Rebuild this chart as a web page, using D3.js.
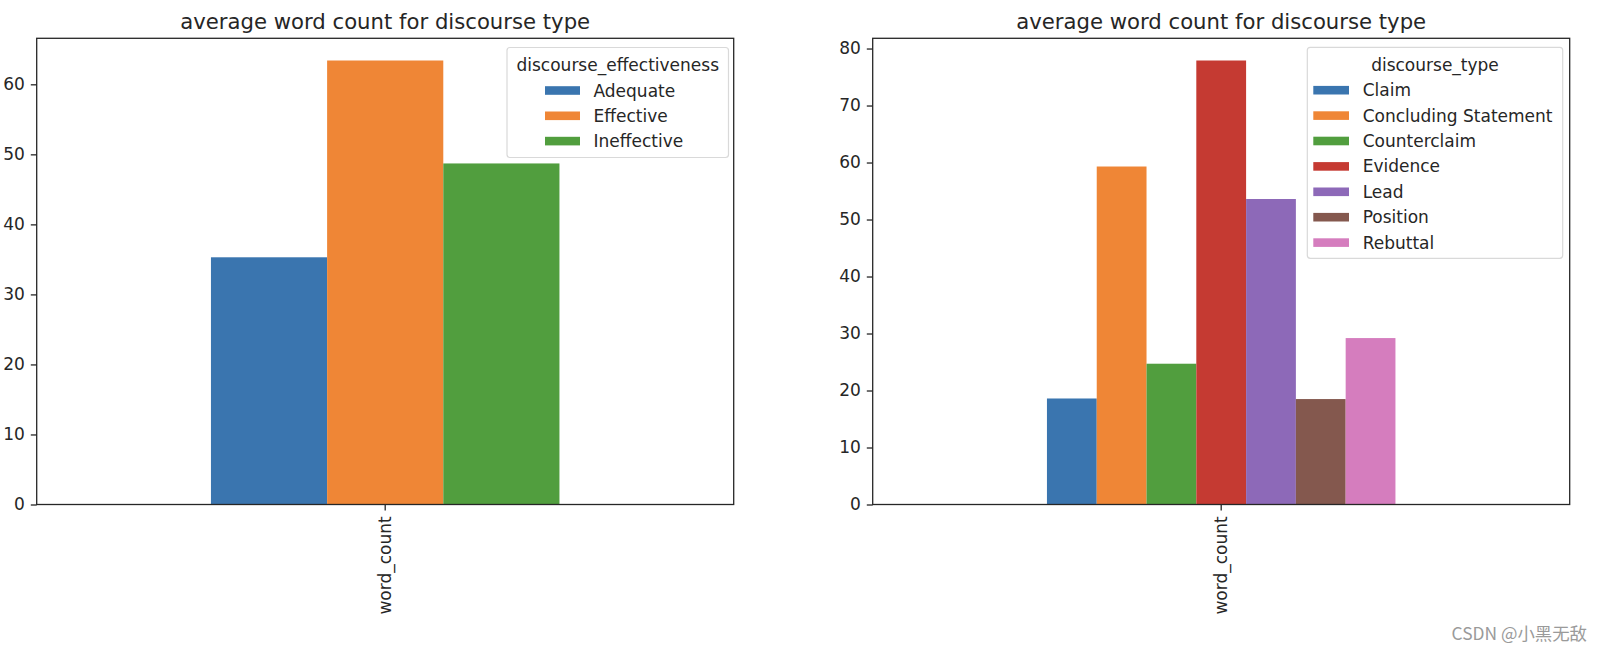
<!DOCTYPE html>
<html>
<head>
<meta charset="utf-8">
<script src="https://cdn.jsdelivr.net/npm/d3@7"></script>
<style>
  html, body { margin: 0; padding: 0; background: #fff; }
  svg { display: block; }
  text { font-family: "DejaVu Sans", sans-serif; fill: #262626; }
</style>
</head>
<body>
<svg id="chart" width="1602" height="650"></svg>
<script>
// ---------- data ----------
const chartTitle = "average word count for discourse type";
const xCategory = ["word_count"];

const effectivenessLabels = ["Adequate", "Effective", "Ineffective"];
const effectivenessValues = [35.3, 63.4, 48.7];
const effectivenessTicks = [0, 10, 20, 30, 40, 50, 60];
const effectivenessLegendTitle = "discourse_effectiveness";

const typeLabels = ["Claim", "Concluding Statement", "Counterclaim", "Evidence", "Lead", "Position", "Rebuttal"];
const typeValues = [18.6, 59.3, 24.7, 77.9, 53.6, 18.5, 29.2];
const typeTicks = [0, 10, 20, 30, 40, 50, 60, 70, 80];
const typeLegendTitle = "discourse_type";

const palette = ["#3a75af", "#ef8636", "#519e3e", "#c53a32", "#8d69b8", "#84584e", "#d57dbe"];

// ---------- layout ----------
const svg = d3.select("#chart");
const plotTop = 38.3, plotBottom = 504.5;
const fontSize = 17;

function drawPanel(cfg) {
  const g = svg.append("g");
  const x = d3.scaleLinear().domain([-0.5, 0.5]).range([cfg.x0, cfg.x1]);
  const ymax = d3.max(cfg.values) * 1.05;
  const y = d3.scaleLinear().domain([0, ymax]).range([plotBottom, plotTop]);
  const n = cfg.values.length;
  const w = 0.5 / n;

  // bars
  g.selectAll("rect.bar").data(cfg.values).join("rect")
    .attr("class", "bar")
    .attr("x", (d, i) => x(-0.25 + i * w))
    .attr("width", x(w) - x(0))
    .attr("y", d => y(d))
    .attr("height", d => y(0) - y(d))
    .attr("fill", (d, i) => palette[i]);

  // y axis
  const yAxis = g.append("g")
    .attr("transform", `translate(${cfg.x0},0)`)
    .call(d3.axisLeft(y).tickValues(cfg.ticks).tickFormat(d3.format("d")).tickSizeOuter(0).tickSize(5.9).tickPadding(5.9));
  yAxis.select(".domain").remove();
  yAxis.selectAll(".tick line").attr("stroke", "#262626").attr("stroke-width", 1.3);
  yAxis.selectAll(".tick text").attr("font-size", fontSize).attr("fill", "#262626")
    .style("font-family", "DejaVu Sans");

  // x axis
  const xb = d3.scaleBand().domain(xCategory).range([cfg.x0, cfg.x1]);
  const xAxis = g.append("g")
    .attr("transform", `translate(0,${plotBottom})`)
    .call(d3.axisBottom(xb).tickSize(5.9).tickSizeOuter(0).tickPadding(0));
  xAxis.select(".domain").remove();
  xAxis.selectAll(".tick line").attr("stroke", "#262626").attr("stroke-width", 1.3);
  xAxis.selectAll(".tick text")
    .attr("font-size", fontSize)
    .attr("fill", "#262626")
    .style("font-family", "DejaVu Sans")
    .attr("text-anchor", "end")
    .attr("dy", null)
    .attr("y", null)
    .attr("dominant-baseline", "central")
    .attr("transform", "translate(0,11.8) rotate(-90)");

  // frame
  g.append("rect")
    .attr("x", cfg.x0).attr("y", plotTop)
    .attr("width", cfg.x1 - cfg.x0).attr("height", plotBottom - plotTop)
    .attr("fill", "none").attr("stroke", "#262626").attr("stroke-width", 1.3);

  // title
  g.append("text")
    .attr("x", (cfg.x0 + cfg.x1) / 2).attr("y", 29)
    .attr("text-anchor", "middle")
    .attr("font-size", 21.2)
    .text(chartTitle);

  // legend
  const L = cfg.legend;
  const lg = g.append("g");
  lg.append("rect")
    .attr("x", L.x0).attr("y", L.y0)
    .attr("width", L.x1 - L.x0).attr("height", L.y1 - L.y0)
    .attr("rx", 3).attr("ry", 3)
    .attr("fill", "#fff").attr("fill-opacity", 0.8)
    .attr("stroke", "#d9d9d9").attr("stroke-width", 1.2);
  lg.append("text")
    .attr("x", (L.x0 + L.x1) / 2).attr("y", L.titleY)
    .attr("text-anchor", "middle").attr("dominant-baseline", "central")
    .attr("font-size", fontSize)
    .text(cfg.legendTitle);
  const items = lg.selectAll("g.item").data(cfg.labels).join("g")
    .attr("class", "item")
    .attr("transform", (d, i) => `translate(0,${L.firstY + i * L.step})`);
  items.append("rect")
    .attr("x", L.px0).attr("y", -4.3)
    .attr("width", L.px1 - L.px0).attr("height", 8.6)
    .attr("fill", (d, i) => palette[i]);
  items.append("text")
    .attr("x", L.tx).attr("y", 0)
    .attr("dominant-baseline", "central")
    .attr("font-size", fontSize)
    .text(d => d);
}

drawPanel({
  x0: 36.7, x1: 733.7,
  values: effectivenessValues, labels: effectivenessLabels, ticks: effectivenessTicks,
  legendTitle: effectivenessLegendTitle,
  legend: { x0: 507, x1: 728.5, y0: 47.5, y1: 157.5, titleY: 64.5, firstY: 90.5, step: 25.3, px0: 545, px1: 580, tx: 593.5 }
});

drawPanel({
  x0: 872.7, x1: 1569.7,
  values: typeValues, labels: typeLabels, ticks: typeTicks,
  legendTitle: typeLegendTitle,
  legend: { x0: 1307.3, x1: 1562.7, y0: 47.3, y1: 258.3, titleY: 64.5, firstY: 90.2, step: 25.4, px0: 1313.3, px1: 1349, tx: 1362.7 }
});

// watermark
svg.append("text")
  .attr("x", 1587).attr("y", 640)
  .attr("text-anchor", "end")
  .attr("font-size", 17.4)
  .style("font-family", "'Noto Sans CJK SC', 'DejaVu Sans', sans-serif")
  .style("fill", "#9a9a9a")
  .text("CSDN @小黑无敌");
</script>
</body>
</html>
